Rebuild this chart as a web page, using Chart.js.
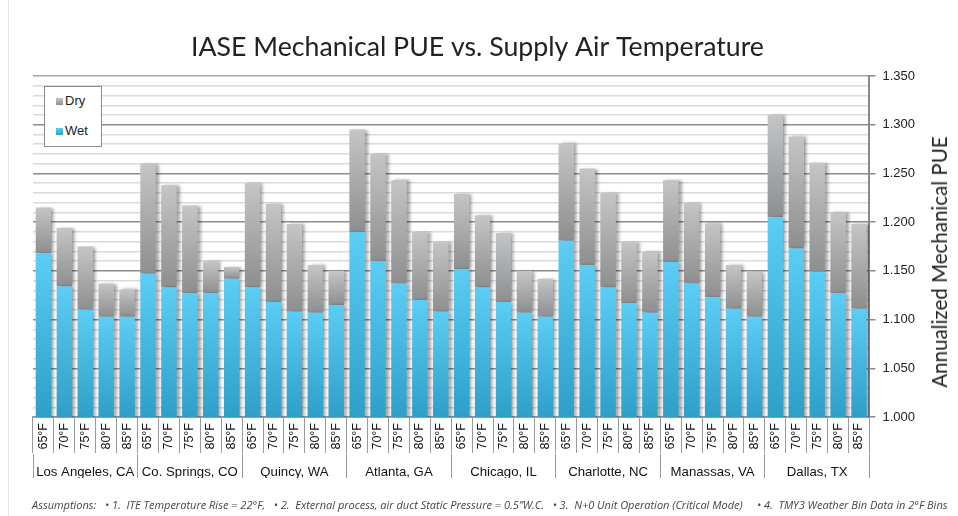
<!DOCTYPE html>
<html>
<head>
<meta charset="utf-8">
<script src="https://cdn.jsdelivr.net/npm/chart.js@4"></script>
<style>
  html, body { margin: 0; padding: 0; background: #fff; }
  #wrap { position: relative; width: 958px; height: 516px; overflow: hidden; }
  #wrap:before { content: ''; position: absolute; left: 8px; top: 0; bottom: 0; width: 1px; background: #e4e4e4; }
  canvas { position: absolute; left: 0; top: 0; }
  #legend { position: absolute; left: 44px; top: 86px; width: 56px; height: 59px; border: 1px solid #8a8a8a; background: #fff;
    font: 13px "Liberation Sans", Arial, sans-serif; color: #222; }
  #legend div { position: absolute; left: 11px; }
  #legend span { display: inline-block; width: 7px; height: 7px; margin-right: 2px; vertical-align: 0; }
  #ytitle { position: absolute; left: 939px; top: 262px; transform: translate(-50%, -50%) rotate(-90deg); white-space: nowrap;
    font: 20.5px Lato, sans-serif; color: #222; }
  #note { position: absolute; left: 32px; top: 497px; white-space: pre; font: italic 11px "Open Sans", sans-serif; color: #444; }
</style>
</head>
<body>
<div id="wrap">
  <canvas id="pue" width="958" height="516"></canvas>
  <div id="legend">
    <div style="top:6px"><span style="background:linear-gradient(#c3c4c6,#8e8f91)"></span>Dry</div>
    <div style="top:36px"><span style="background:linear-gradient(#5ccdf5,#2ea0c9)"></span>Wet</div>
  </div>
  <div id="ytitle">Annualized Mechanical PUE</div>
  <div id="note">Assumptions:   • 1.  ITE Temperature Rise = 22°F,   • 2.  External process, air duct Static Pressure = 0.5”W.C.   • 3.  N+0 Unit Operation (Critical Mode)     • 4.  TMY3 Weather Bin Data in 2°F Bins</div>
</div>
<script>
const cities = ['Los Angeles, CA', 'Co. Springs, CO', 'Quincy, WA', 'Atlanta, GA', 'Chicago, IL', 'Charlotte, NC', 'Manassas, VA', 'Dallas, TX'];
const temps = ['65°F', '70°F', '75°F', '80°F', '85°F'];

// PUE reached with wet operation (top of blue segment)
const wetPUE = [
  1.168, 1.134, 1.110, 1.103, 1.103,
  1.147, 1.133, 1.127, 1.127, 1.142,
  1.133, 1.118, 1.108, 1.107, 1.115,
  1.190, 1.160, 1.137, 1.120, 1.108,
  1.152, 1.133, 1.118, 1.107, 1.103,
  1.181, 1.156, 1.133, 1.117, 1.107,
  1.159, 1.137, 1.123, 1.111, 1.103,
  1.205, 1.173, 1.149, 1.127, 1.111
];

// PUE with dry operation (top of the whole bar)
const dryPUE = [
  1.215, 1.194, 1.175, 1.137, 1.131,
  1.260, 1.238, 1.217, 1.160, 1.154,
  1.240, 1.219, 1.198, 1.156, 1.150,
  1.295, 1.270, 1.243, 1.190, 1.180,
  1.229, 1.207, 1.189, 1.150, 1.142,
  1.281, 1.255, 1.230, 1.180, 1.169,
  1.243, 1.220, 1.199, 1.156, 1.149,
  1.310, 1.288, 1.261, 1.210, 1.198
];

const labels = cities.flatMap(() => temps);
const isMajor = (v) => Math.round(v * 100) % 5 === 0;

// vertical gradient for one bar segment
function barFill(ctx, top, bottom, light, dark) {
  const chart = ctx.chart;
  if (!chart.chartArea) return dark;
  const y = chart.scales.y;
  const g = chart.ctx.createLinearGradient(0, y.getPixelForValue(top), 0, y.getPixelForValue(bottom));
  g.addColorStop(0, light);
  g.addColorStop(1, dark);
  return g;
}

const barShadow = {
  id: 'barShadow',
  beforeDatasetsDraw(chart) {
    const c = chart.ctx;
    c.save();
    c.shadowColor = 'rgba(0,0,0,0.35)';
    c.shadowOffsetX = 3;
    c.shadowOffsetY = 0;
    c.shadowBlur = 3;
  },
  afterDatasetsDraw(chart) {
    chart.ctx.restore();
  }
};

// @ts-ignore
new Chart(document.getElementById('pue'), {
  type: 'bar',
  data: {
    labels: labels,
    datasets: [{
      label: 'Wet',
      data: wetPUE,
      backgroundColor: (ctx) => barFill(ctx, wetPUE[ctx.dataIndex], 1, '#5ccdf5', '#2d9fc8')
    }, {
      label: 'Dry',
      data: dryPUE.map((v, i) => v - wetPUE[i]),
      backgroundColor: (ctx) => barFill(ctx, dryPUE[ctx.dataIndex], wetPUE[ctx.dataIndex], '#c4c5c7', '#8d8e90')
    }]
  },
  options: {
    responsive: false,
    animation: false,
    categoryPercentage: 1,
    barPercentage: 0.74,
    layout: { padding: { left: 33, right: 36, top: 0, bottom: 38 } },
    plugins: {
      legend: { display: false },
      tooltip: { enabled: false },
      title: {
        display: true,
        text: 'IASE Mechanical PUE vs. Supply Air Temperature',
        color: '#222',
        font: { family: 'Lato', size: 26.7, weight: 'normal' },
        padding: { top: 31, bottom: 13 }
      }
    },
    scales: {
      x: {
        stacked: true,
        weight: 0,
        border: { display: true, color: '#9a9a9a', width: 2 },
        grid: { offset: true, drawOnChartArea: false, tickLength: 36, color: '#9a9a9a', lineWidth: 1 },
        ticks: {
          minRotation: 90, maxRotation: 90, autoSkip: false, padding: -30,
          color: '#111', font: { family: 'Liberation Sans', size: 12.5 }
        },
        afterFit: (s) => { s.height = 37; }
      },
      x2: {
        type: 'category',
        labels: cities,
        position: 'bottom',
        weight: 1,
        offset: true,
        border: { display: false },
        grid: { offset: true, drawOnChartArea: false, tickLength: 24, color: '#9a9a9a', lineWidth: 1 },
        ticks: {
          minRotation: 0, maxRotation: 0, autoSkip: false, padding: -14,
          color: '#111', font: { family: 'Liberation Sans', size: 13.2 }
        },
        afterFit: (s) => { s.height = 24; }
      },
      y: {
        stacked: true,
        position: 'right',
        min: 1,
        max: 1.35,
        border: { display: true, color: '#8a8a8a', width: 2 },
        grid: {
          color: (c) => c.tick && isMajor(c.tick.value) ? (c.tick.value > 1.34 ? '#a8a8a8' : '#8c8c8c') : '#dadada',
          lineWidth: 1.5,
          tickColor: (c) => c.tick && isMajor(c.tick.value) ? '#8a8a8a' : 'rgba(0,0,0,0)',
          tickLength: 6
        },
        ticks: {
          stepSize: 0.01,
          autoSkip: false,
          padding: 7,
          color: '#222',
          font: { family: 'Liberation Sans', size: 13 },
          callback: (v) => isMajor(v) ? Number(v).toFixed(3) : ''
        }
      }
    }
  },
  plugins: [barShadow]
});
</script>
</body>
</html>
